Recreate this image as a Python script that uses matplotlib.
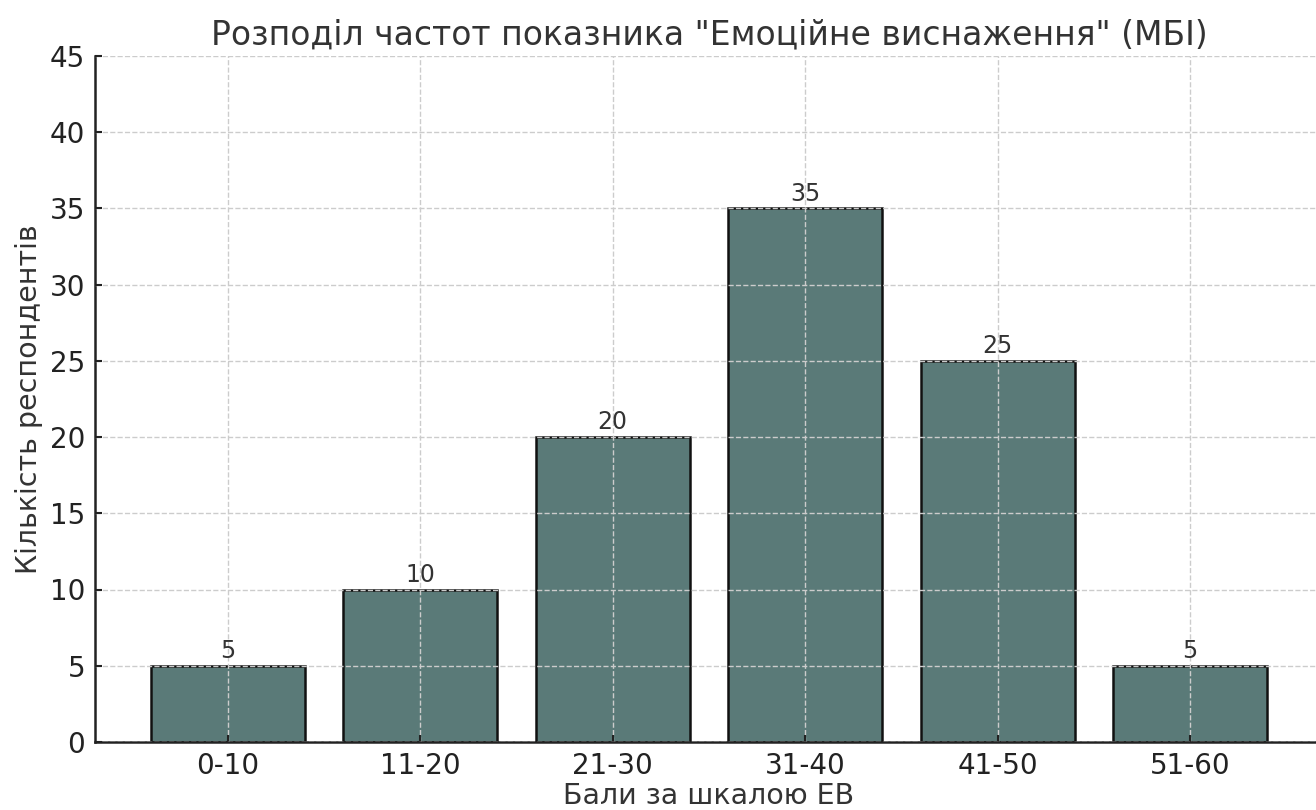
import matplotlib
matplotlib.use("Agg")
import matplotlib.pyplot as plt

categories = ["0-10", "11-20", "21-30", "31-40", "41-50", "51-60"]
counts = [5, 10, 20, 35, 25, 5]
yticks = [0, 5, 10, 15, 20, 25, 30, 35, 40, 45]

title = 'Розподіл частот показника "Емоційне виснаження" (МБІ)'
xlabel = "Бали за шкалою ЕВ"
ylabel = "Кількість респондентів"

plt.rcParams['font.family'] = ['DejaVu Sans']
text_color = "#333333"

fig = plt.figure(figsize=(13.16, 8.10), dpi=100)
ax = fig.add_axes([0.0722, 0.084, 0.933, 0.847])

bars = ax.bar(categories, counts, width=0.8, color="#5a7a78",
              edgecolor="#111111", linewidth=1.8)
ax.bar_label(bars, padding=2, fontsize=17, color=text_color)

ax.set_ylim(0, 45)
ax.set_yticks(yticks)
ax.set_axisbelow(False)
ax.grid(True, linestyle="--", color="#cccccc", linewidth=1.0)

ax.set_title(title, fontsize=23.8, color=text_color, pad=8)
ax.set_xlabel(xlabel, fontsize=20.5, color=text_color, labelpad=2)
ax.set_ylabel(ylabel, fontsize=20.5, color=text_color, labelpad=5)

ax.tick_params(axis="both", direction="in", labelsize=20,
               colors="#222222", labelcolor="#222222", length=5, width=1.5, pad=7)
for s in ["top", "right"]:
    ax.spines[s].set_visible(False)
for s in ["left", "bottom"]:
    ax.spines[s].set_linewidth(1.8)
    ax.spines[s].set_color("#222222")

fig.savefig("out.png", dpi=100)
